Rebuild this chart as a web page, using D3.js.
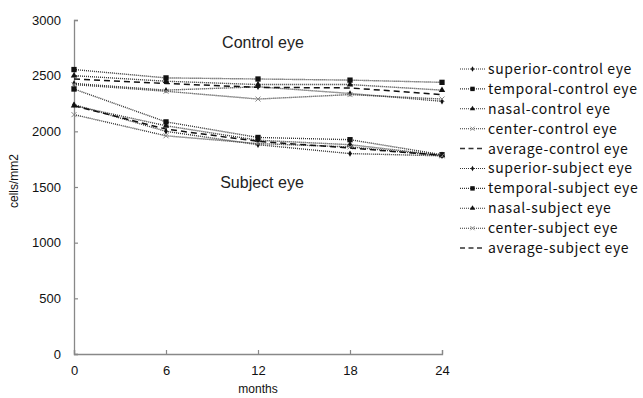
<!DOCTYPE html>
<html>
<head>
<meta charset="utf-8">
<script src="https://cdn.jsdelivr.net/npm/d3@7"></script>
<style>
    body { margin: 0; background: #fff; }
    text { font-family: "Liberation Sans", Arial, sans-serif; }
    .legend text { font-family: "Noto Sans CJK KR", "Liberation Sans", sans-serif; }
</style>
</head>
<body>
<div id="chart"></div>
<script>
// data
const months = [0, 6, 12, 18, 24];
const yTicks = [0, 500, 1000, 1500, 2000, 2500, 3000];

const superiorControl = [2430, 2370, 2400, 2340, 2270];
const temporalControl = [2555, 2480, 2470, 2460, 2440];
const nasalControl    = [2500, 2450, 2420, 2420, 2370];
const centerControl   = [2420, 2360, 2290, 2330, 2290];
const averageControl  = [2470, 2430, 2395, 2390, 2330];

const superiorSubject = [2240, 2000, 1880, 1800, 1780];
const temporalSubject = [2380, 2085, 1945, 1925, 1790];
const nasalSubject    = [2230, 2050, 1920, 1880, 1785];
const centerSubject   = [2150, 1960, 1890, 1860, 1780];
const averageSubject  = [2230, 2020, 1910, 1850, 1785];

const seriesNames = [
    "superior-control eye", "temporal-control eye", "nasal-control eye",
    "center-control eye", "average-control eye",
    "superior-subject eye", "temporal-subject eye", "nasal-subject eye",
    "center-subject eye", "average-subject eye"
];
const seriesValues = [
    superiorControl, temporalControl, nasalControl, centerControl, averageControl,
    superiorSubject, temporalSubject, nasalSubject, centerSubject, averageSubject
];
const seriesKind = ["superior", "temporal", "nasal", "center", "average",
    "superior", "temporal", "nasal", "center", "average"];

const width = 643, height = 398;
const margin = { top: 20, left: 74, right: 201, bottom: 44 };
const plotW = width - margin.left - margin.right;
const plotH = height - margin.top - margin.bottom;

const svg = d3.select("#chart").append("svg")
    .attr("width", width)
    .attr("height", height);

const g = svg.append("g")
    .attr("transform", "translate(" + margin.left + "," + margin.top + ")");

const x = d3.scaleLinear().domain([0, 24]).range([0, plotW]);
const y = d3.scaleLinear().domain([0, 3000]).range([plotH, 0]);

// axes, ticks pointing inward
const xAxis = g.append("g")
    .attr("transform", "translate(0," + plotH + ")")
    .call(d3.axisBottom(x).tickValues(months).tickSize(-4).tickSizeOuter(-4).tickPadding(12));
const yAxis = g.append("g")
    .call(d3.axisLeft(y).tickValues(yTicks).tickFormat(d3.format("d"))
        .tickSize(-4).tickSizeOuter(-4).tickPadding(13));

[xAxis, yAxis].forEach(a => {
    a.attr("font-family", null);
    a.select(".domain").attr("stroke", "#888").attr("stroke-width", 1.3);
    a.selectAll(".tick line").attr("stroke", "#888").attr("stroke-width", 1.2);
    a.selectAll(".tick text").attr("fill", "#111").style("font-size", "13px");
});

g.append("text")
    .attr("transform", "rotate(-90)")
    .attr("x", -(plotH / 2) + 6)
    .attr("y", -56)
    .attr("text-anchor", "middle")
    .style("font-size", "12px")
    .attr("fill", "#111")
    .text("cells/mm2");

g.append("text")
    .attr("x", plotW / 2)
    .attr("y", plotH + 39)
    .attr("text-anchor", "middle")
    .style("font-size", "12px")
    .attr("fill", "#111")
    .text("months");

g.append("text")
    .attr("x", 189)
    .attr("y", 28)
    .attr("text-anchor", "middle")
    .style("font-size", "16px")
    .attr("fill", "#222")
    .text("Control eye");

g.append("text")
    .attr("x", 188)
    .attr("y", 168)
    .attr("text-anchor", "middle")
    .style("font-size", "16px")
    .attr("fill", "#222")
    .text("Subject eye");

// marker helpers
function markerPath(kind, scale) {
    const k = scale || 1;
    if (kind === "temporal") return d3.symbol(d3.symbolSquare, 28 * k)();
    if (kind === "nasal") return d3.symbol(d3.symbolTriangle, 18 * k)();
    if (kind === "superior") return d3.symbol(d3.symbolDiamond, 12 * k)();
    if (kind === "center") return d3.symbol(d3.symbolTimes, 18 * k)();
    return null;
}
function markerFill(kind) {
    return kind === "center" ? "none" : "#111";
}
function markerStroke(kind) {
    return kind === "center" ? "#888" : "none";
}

const line = d3.line()
    .x((d, i) => x(months[i]))
    .y(d => y(d));

const series = g.selectAll(".series")
    .data(seriesValues)
    .enter()
    .append("g")
    .attr("class", "series");

series.append("path")
    .attr("d", d => line(d))
    .attr("fill", "none")
    .attr("stroke", (d, i) => seriesKind[i] === "average" ? "#111" : "#333")
    .attr("stroke-width", (d, i) => seriesKind[i] === "average" ? 1.5 : 1.4)
    .attr("stroke-dasharray", (d, i) => seriesKind[i] === "average" ? "6,4" : "1,1");

series.each(function (vals, si) {
    const kind = seriesKind[si];
    if (kind === "average") return;
    d3.select(this).selectAll("path.mark")
        .data(vals)
        .enter()
        .append("path")
        .attr("class", "mark")
        .attr("transform", (d, i) => "translate(" + x(months[i]) + "," + y(d) + ")")
        .attr("d", markerPath(kind))
        .attr("fill", markerFill(kind))
        .attr("stroke", markerStroke(kind))
        .attr("stroke-width", 1);
});

// legend
const legend = svg.append("g")
    .attr("class", "legend")
    .attr("transform", "translate(460,69)");

const rowH = 19.9;
const item = legend.selectAll(".item")
    .data(seriesNames)
    .enter()
    .append("g")
    .attr("class", "item")
    .attr("transform", (d, i) => "translate(0," + (i * rowH) + ")");

item.append("line")
    .attr("x1", 0).attr("x2", 25)
    .attr("y1", 0).attr("y2", 0)
    .attr("stroke", "#333")
    .attr("stroke-width", (d, i) => seriesKind[i] === "average" ? 1.5 : 1.1)
    .attr("stroke-dasharray", (d, i) => seriesKind[i] === "average" ? "5,3.5" : "1,1");

item.append("path")
    .attr("transform", "translate(12.5,0)")
    .attr("d", (d, i) => markerPath(seriesKind[i], 0.7))
    .attr("fill", (d, i) => markerFill(seriesKind[i]))
    .attr("stroke", (d, i) => markerStroke(seriesKind[i]))
    .attr("stroke-width", 1);

item.append("text")
    .attr("x", 28)
    .attr("y", 0)
    .attr("dy", "0.35em")
    .style("font-size", "14px")
    .style("letter-spacing", "0.6px")
    .attr("fill", "#111")
    .text(d => d);
</script>
</body>
</html>
